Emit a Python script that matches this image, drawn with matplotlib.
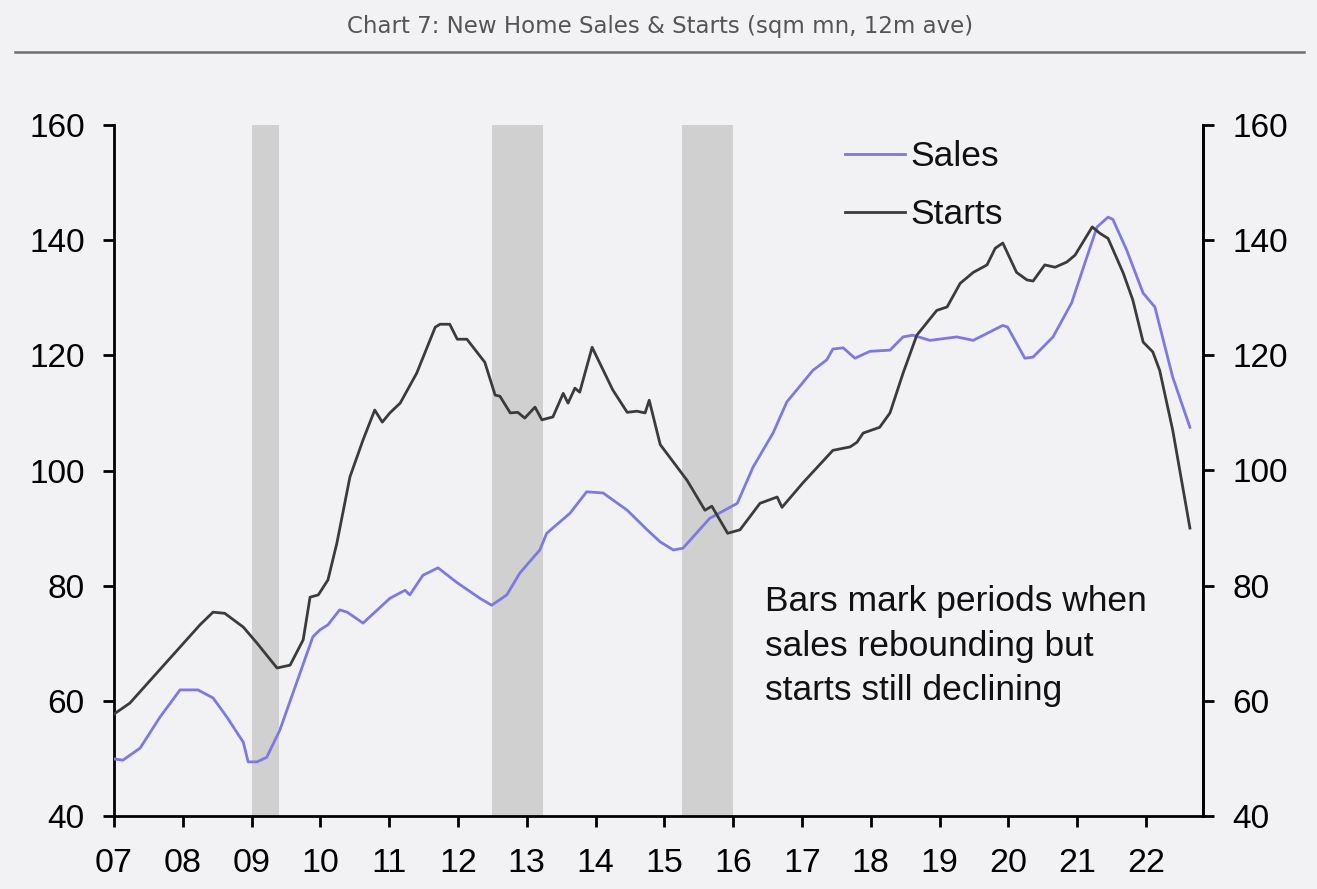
import matplotlib
matplotlib.use("Agg")
import matplotlib.pyplot as plt
from matplotlib.lines import Line2D

# ---- data (decimal years, sqm mn, 12m average) ----
starts_t = [2007.00, 2007.23, 2007.92, 2008.25, 2008.44, 2008.61, 2008.88, 2009.08,
            2009.37, 2009.56, 2009.75, 2009.85, 2009.97, 2010.11, 2010.24, 2010.43,
            2010.62, 2010.79, 2010.90, 2011.01, 2011.16, 2011.40, 2011.67, 2011.74,
            2011.88, 2011.99, 2012.13, 2012.39, 2012.54, 2012.61, 2012.76, 2012.87,
            2012.97, 2013.12, 2013.22, 2013.38, 2013.53, 2013.60, 2013.70, 2013.77,
            2013.95, 2014.25, 2014.46, 2014.60, 2014.72, 2014.78, 2014.94, 2015.33,
            2015.59, 2015.69, 2015.92, 2016.10, 2016.39, 2016.64, 2016.71, 2017.01,
            2017.45, 2017.70, 2017.80, 2017.89, 2018.13, 2018.28, 2018.47, 2018.67,
            2018.96, 2019.11, 2019.30, 2019.49, 2019.69, 2019.81, 2019.92, 2020.12,
            2020.27, 2020.36, 2020.53, 2020.68, 2020.85, 2020.97, 2021.22, 2021.33,
            2021.45, 2021.67, 2021.81, 2021.96, 2022.10, 2022.20, 2022.39, 2022.64]
starts_v = [57.7, 59.6, 68.8, 73.2, 75.4, 75.2, 72.8, 70.0,
            65.7, 66.2, 70.6, 78.0, 78.4, 81.0, 87.4, 98.9,
            105.3, 110.5, 108.4, 110.0, 111.7, 116.9, 124.9, 125.4,
            125.4, 122.8, 122.8, 118.8, 113.1, 112.9, 110.0, 110.1,
            109.1, 111.0, 108.8, 109.3, 113.4, 111.7, 114.3, 113.6,
            121.4, 114.0, 110.1, 110.3, 110.0, 112.2, 104.5, 98.3,
            93.1, 93.8, 89.1, 89.7, 94.3, 95.4, 93.6, 97.8,
            103.5, 104.1, 104.9, 106.5, 107.5, 110.0, 116.9, 123.5,
            127.8, 128.4, 132.5, 134.4, 135.7, 138.6, 139.5, 134.4,
            133.1, 132.9, 135.7, 135.3, 136.2, 137.4, 142.3, 141.2,
            140.3, 134.3, 129.6, 122.3, 120.6, 117.4, 107.0, 90.0]

sales_t = [2007.01, 2007.13, 2007.38, 2007.67, 2007.96, 2008.22, 2008.44, 2008.64,
           2008.88, 2008.95, 2009.08, 2009.22, 2009.41, 2009.89, 2009.99, 2010.11,
           2010.28, 2010.39, 2010.62, 2011.01, 2011.23, 2011.30, 2011.49, 2011.71,
           2011.99, 2012.32, 2012.49, 2012.71, 2012.90, 2013.19, 2013.29, 2013.63,
           2013.87, 2014.11, 2014.46, 2014.75, 2014.94, 2015.13, 2015.27, 2015.66,
           2016.06, 2016.29, 2016.58, 2016.78, 2017.16, 2017.36, 2017.45, 2017.60,
           2017.77, 2017.99, 2018.28, 2018.47, 2018.61, 2018.86, 2019.25, 2019.49,
           2019.92, 2019.99, 2020.24, 2020.36, 2020.65, 2020.92, 2021.14, 2021.29,
           2021.45, 2021.52, 2021.72, 2021.96, 2022.13, 2022.39, 2022.64]
sales_v = [49.9, 49.7, 51.8, 57.2, 61.9, 61.9, 60.5, 57.2,
           52.8, 49.4, 49.4, 50.2, 54.9, 71.1, 72.3, 73.2,
           75.8, 75.4, 73.5, 77.8, 79.2, 78.4, 81.8, 83.1,
           80.5, 77.8, 76.6, 78.4, 82.2, 86.2, 89.1, 92.6,
           96.3, 96.1, 93.1, 89.7, 87.6, 86.2, 86.5, 91.7,
           94.3, 100.6, 106.5, 111.9, 117.4, 119.2, 121.1, 121.3,
           119.5, 120.7, 120.9, 123.2, 123.5, 122.6, 123.2, 122.6,
           125.2, 124.9, 119.5, 119.7, 123.2, 129.1, 137.0, 142.3,
           144.0, 143.6, 138.3, 130.8, 128.4, 116.2, 107.5]

# periods when sales rebound while starts still fall
bar_start = [2009.00, 2012.50, 2015.25]
bar_end = [2009.40, 2013.24, 2016.00]

year_ticks = list(range(2007, 2023))
year_labels = [f"{y % 100:02d}" for y in year_ticks]
y_ticks = [40, 60, 80, 100, 120, 140, 160]

title = "Chart 7: New Home Sales & Starts (sqm mn, 12m ave)"
note = "Bars mark periods when\nsales rebounding but\nstarts still declining"

# ---- styling ----
BG = "#f2f2f4"
SALES_C = "#7d79e2"
STARTS_C = "#3b3b3b"
BAR_C = "#d0d0d0"
FONT = ["Liberation Sans", "DejaVu Sans"]
FS = 24
FS_TXT = 25.5

plt.rcParams["font.family"] = FONT

W, H = 1317, 889
fig = plt.figure(figsize=(W / 100, H / 100), dpi=100, facecolor=BG)

# title strip and separator rule
fig.text(660 / W, 1 - 27 / H, title, ha="center", va="center", fontsize=16.5,
         color="#555555", family=["DejaVu Sans"])
fig.add_artist(Line2D([15 / W, 1304 / W], [1 - 52 / H, 1 - 52 / H],
                      color="#6e6e6e", lw=1.8))

left, right = 114 / W, 1203 / W
bottom, top = 1 - 816 / H, 1 - 125 / H
ax = fig.add_axes([left, bottom, right - left, top - bottom])
ax.set_facecolor(BG)

for s, e in zip(bar_start, bar_end):
    ax.axvspan(s, e, ymin=0, ymax=1, color=BAR_C, lw=0, zorder=1)

ax.plot(sales_t, sales_v, color=SALES_C, lw=2.0, label="Sales", zorder=3)
ax.plot(starts_t, starts_v, color=STARTS_C, lw=2.0, label="Starts", zorder=3)

ax.set_xlim(2007.0, 2022.83)
ax.set_ylim(40, 160)
ax.set_xticks(year_ticks)
ax.set_xticklabels(year_labels)
ax.set_yticks(y_ticks)

ax.spines["top"].set_visible(False)
for sp in ["left", "right", "bottom"]:
    ax.spines[sp].set_linewidth(2.0)
    ax.spines[sp].set_color("black")

ax.tick_params(axis="both", which="major", direction="out", length=8, width=2,
               labelsize=FS, colors="black")
ax.tick_params(axis="y", pad=13)
ax.tick_params(axis="x", pad=15, labelsize=FS + 0.5)

ax2 = ax.twinx()
ax2.set_ylim(40, 160)
ax2.set_yticks(y_ticks)
ax2.spines["top"].set_visible(False)
ax2.spines["left"].set_visible(False)
ax2.spines["bottom"].set_visible(False)
ax2.spines["right"].set_linewidth(2.0)
ax2.tick_params(axis="y", direction="out", length=8, width=2, labelsize=FS,
                pad=13, colors="black")

leg = ax.legend(loc="upper left", bbox_to_anchor=((845 - 114) / 1089, (816 - 140) / 691),
                frameon=False, fontsize=FS_TXT, handlelength=1.7, handletextpad=0.15,
                labelspacing=0.72, borderaxespad=0, borderpad=0)
for t in leg.get_texts():
    t.set_color("#111111")

ax.text((765 - 114) / 1089, (816 - 585) / 691, note, transform=ax.transAxes,
        ha="left", va="top", fontsize=FS_TXT, color="#111111", linespacing=1.45,
        zorder=4)

fig.savefig("out.png", dpi=100, facecolor=BG)
